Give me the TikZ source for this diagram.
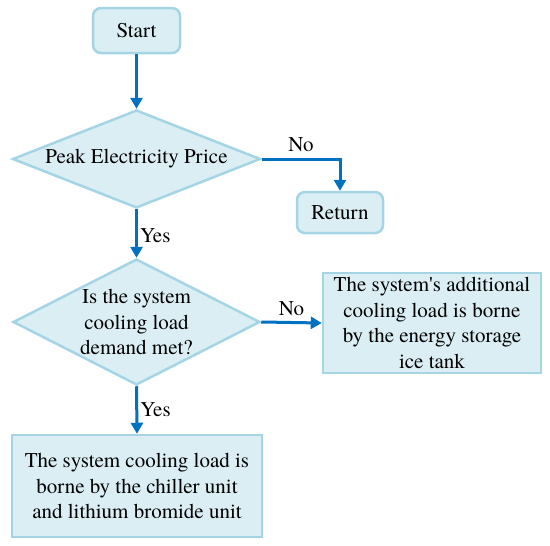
\documentclass[tikz,border=0pt]{standalone}
\usepackage{fontspec}
\newfontfamily\flowfont{texgyretermes-regular.otf}
\usepackage{xcolor}
\usepackage{tikz}
\usetikzlibrary{arrows.meta}
\usetikzlibrary{shapes.geometric}

\definecolor{boxfill}{HTML}{DAEEF3}
\definecolor{boxline}{HTML}{A5D5E5}
\definecolor{flowblue}{HTML}{0070C0}

\begin{document}
\begin{tikzpicture}[x=1pt,y=-1pt]
	\useasboundingbox (0,0) rectangle (550,546);
	\tikzstyle{every node}=[font=\flowfont\fontsize{21}{25.5}\selectfont];
	\tikzstyle{term}=[draw=boxline,line width=2.5pt,fill=boxfill,rounded corners=8pt,inner sep=0pt];
	\tikzstyle{decide}=[draw=boxline,line width=2.5pt,fill=boxfill,shape=diamond,inner sep=0pt,align=center];
	\tikzstyle{proc}=[draw=boxline,line width=2.5pt,fill=boxfill,inner sep=0pt,align=center];
	\tikzstyle{flow}=[draw=flowblue,line width=3pt,-{Triangle[length=11pt,width=12pt]}];
	\tikzstyle{lbl}=[inner sep=2pt];
	\node[term,minimum width=87pt,minimum height=45pt] (start) at (136.5,30.5) {Start};
	\node[decide,minimum width=248pt,minimum height=98pt,aspect=2.53] (peak) at (136.5,159) {Peak Electricity Price};
	\node[term,minimum width=86pt,minimum height=41pt] (ret) at (340,212.5) {Return};
	\node[decide,minimum width=247pt,minimum height=126pt,aspect=1.96] (met) at (136.5,322) {Is the system\\cooling load\\demand met?};
	\node[proc,minimum width=218pt,minimum height=100pt] (ice) at (432,323) {The system\textquotesingle s additional\\cooling load is borne\\by the energy storage\\ice tank};
	\node[proc,minimum width=250pt,minimum height=102pt] (chiller) at (137,486) {The system cooling load is\\borne by the chiller unit\\and lithium bromide unit};
	\draw[flow] (start) -- (peak);
	\draw[flow] (peak.east) -| node[lbl,pos=0.25,above=4pt] (no1) {No} (ret.north);
	\draw[flow] (peak.south) -- node[lbl,right,yshift=-2pt] (yes1) {Yes} (met.north);
	\draw[flow] (met.east) -- node[lbl,above=3pt] (no2) {No} (ice.west);
	\draw[flow] (met.south) -- node[lbl,right] (yes2) {Yes} (chiller.north);
\end{tikzpicture}
\end{document}
